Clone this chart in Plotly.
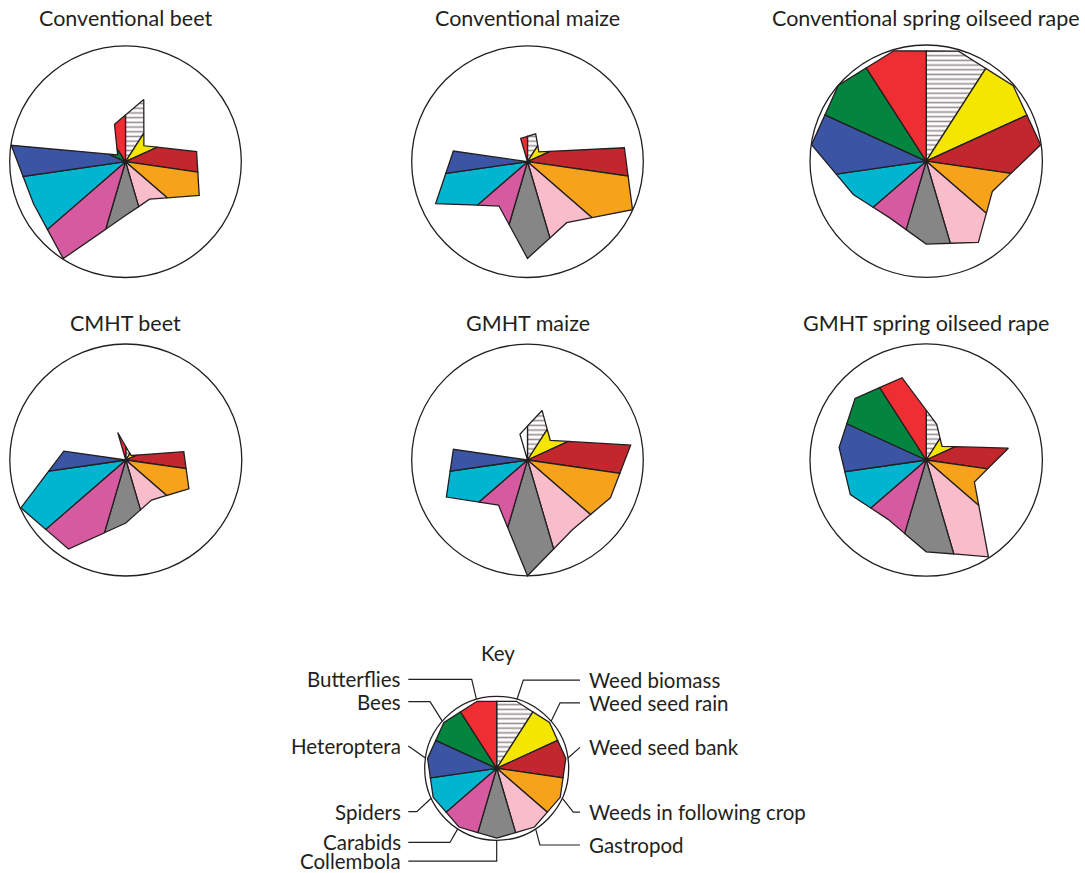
import numpy as np
import plotly.graph_objects as go

# ---- data -------------------------------------------------------------
CATEGORIES = ["Weed biomass", "Weed seed rain", "Weed seed bank",
              "Weeds in following crop", "Gastropod", "Collembola",
              "Carabids", "Spiders", "Heteroptera", "Bees", "Butterflies"]

# relative response of each indicator (outer circle = 1)
CONV_BEET = [0.56, 0.21, 0.62, 0.70, 0.385, 0.465, 0.995, 0.873, 0.997, 0.09, 0.337]
CONV_MAIZE = [0.25, 0.13, 0.845, 0.997, 0.626, 0.835, 0.455, 0.872, 0.647, 0.0, 0.21]
CONV_SOR = [0.987, 0.991, 0.995, 0.626, 0.83, 0.713, 0.58, 0.69, 0.997, 1.0, 0.99]
CMHT_BEET = [0.08, 0.06, 0.505, 0.598, 0.41, 0.543, 0.913, 0.994, 0.54, 0.0, 0.247]
GMHT_MAIZE = [0.446, 0.26, 0.90, 0.787, 0.716, 1.0, 0.463, 0.77, 0.647, 0.0, 0.232]
GMHT_SOR = [0.32, 0.18, 0.714, 0.456, 0.99, 0.79, 0.607, 0.718, 0.757, 0.81, 0.738]
KEY_VALUES = [0.97, 0.97, 0.97, 0.97, 0.97, 0.97, 0.97, 0.97, 0.97, 0.97, 0.97]

TITLES = ["Conventional beet", "Conventional maize", "Conventional spring oilseed rape",
          "CMHT beet", "GMHT maize", "GMHT spring oilseed rape"]
SERIES = [CONV_BEET, CONV_MAIZE, CONV_SOR, CMHT_BEET, GMHT_MAIZE, GMHT_SOR]

# ---- style ------------------------------------------------------------
COLORS = ["#ffffff", "#f5e600", "#c1272d", "#f7a21b", "#f8bccb", "#868686",
          "#d65a9f", "#00b5cf", "#3b54a4", "#03843f", "#ee2e33"]
UNFILLED = {"GMHT maize": ["Butterflies"]}
HATCHED = "Weed biomass"
INK = "#231f20"
FONT = "Lato"
TITLE_SIZE = 21.5
LABEL_SIZE = 20.5
W, H = 1085, 873

# panel centre (px), radius (px), title position (px)
PANELS = [
    (125.5, 161.7, 115.8, 18),
    (527.5, 161.7, 115.8, 18),
    (926.2, 161.2, 116.2, 18),
    (125.8, 460.0, 116.0, 323),
    (527.5, 460.0, 115.8, 323),
    (926.2, 460.0, 116.2, 323),
]
KEY_PANEL = (496.7, 768.3, 72.0)

N = len(CATEGORIES)
STEP = 360.0 / N


def boundary_radius(r1, r2):
    """Radius where the outline joining two neighbouring mid-sector points
    crosses the radial line between the two sectors."""
    if r1 + r2 == 0:
        return 0.0
    return 2 * r1 * r2 * np.cos(np.radians(STEP / 2)) / (r1 + r2)


def to_xy(r, ang):
    a = np.radians(ang)
    return r * np.sin(a), r * np.cos(a)


fig = go.Figure()
shapes = []
annotations = []


def add_star(values, k, title=None):
    xa, ya = f"x{k}", f"y{k}"
    skip = UNFILLED.get(title, [])
    for i, name in enumerate(CATEGORIES):
        v_prev, v, v_next = values[i - 1], values[i], values[(i + 1) % N]
        rs = boundary_radius(v_prev, v)
        re = boundary_radius(v, v_next)
        pts = [(0.0, 0.0), to_xy(rs, i * STEP), to_xy(v, (i + 0.5) * STEP),
               to_xy(re, (i + 1) * STEP), (0.0, 0.0)]
        xs = [p[0] for p in pts]
        ys = [p[1] for p in pts]
        kw = dict(x=xs, y=ys, xaxis=xa, yaxis=ya, mode="lines", fill="toself",
                  line=dict(color=INK, width=1.3), hoverinfo="skip",
                  showlegend=False, name=name)
        if name == HATCHED:
            kw["fillcolor"] = "white"
            kw["fillpattern"] = dict(shape="-", size=4.7, solidity=0.34,
                                     fgcolor="#2e1a1c", bgcolor="white")
        elif name in skip:
            kw["fillcolor"] = "white"
        else:
            kw["fillcolor"] = COLORS[i]
        fig.add_trace(go.Scatter(**kw))
    shapes.append(dict(type="circle", xref=xa, yref=ya, x0=-1, y0=-1, x1=1, y1=1,
                       line=dict(color=INK, width=1.3), layer="below"))


layout_axes = {}
for k, (title, values, (cx, cy, R, ty)) in enumerate(zip(TITLES, SERIES, PANELS), start=1):
    half = 1.05 * R
    ax = dict(visible=False, range=[-1.05, 1.05], fixedrange=True)
    layout_axes[f"xaxis{k}"] = dict(ax, domain=[(cx - half) / W, (cx + half) / W], anchor=f"y{k}")
    layout_axes[f"yaxis{k}"] = dict(ax, domain=[1 - (cy + half) / H, 1 - (cy - half) / H], anchor=f"x{k}")
    add_star(values, k, title)
    annotations.append(dict(text=title, x=cx / W, y=1 - ty / H, xref="paper", yref="paper",
                            showarrow=False, xanchor="center", yanchor="middle",
                            font=dict(family=FONT, size=TITLE_SIZE, color=INK)))

# ---- key --------------------------------------------------------------
kx, ky, kR = KEY_PANEL
k = 7
xr, yr = [-3.0, 5.0], [-1.45, 1.7]
layout_axes[f"xaxis{k}"] = dict(visible=False, range=xr, fixedrange=True, anchor=f"y{k}",
                                domain=[(kx + xr[0] * kR) / W, (kx + xr[1] * kR) / W])
layout_axes[f"yaxis{k}"] = dict(visible=False, range=yr, fixedrange=True, anchor=f"x{k}",
                                domain=[1 - (ky - yr[0] * kR) / H, 1 - (ky - yr[1] * kR) / H])
add_star(KEY_VALUES, k)

# label placement for the key: (side, label y, elbow x or None)
KEY_LABELS = {
    "Butterflies": ("left", 1.235, -0.347),
    "Bees": ("left", 0.925, -0.926),
    "Heteroptera": ("left", 0.31, None),
    "Spiders": ("left", -0.603, -1.11),
    "Carabids": ("left", -1.03, -0.65),
    "Collembola": ("left", -1.29, 0.0),
    "Weed biomass": ("right", 1.225, 0.37),
    "Weed seed rain": ("right", 0.91, 0.88),
    "Weed seed bank": ("right", 0.29, None),
    "Weeds in following crop": ("right", -0.61, 1.064),
    "Gastropod": ("right", -1.065, 0.6),
}
for i, name in enumerate(CATEGORIES):
    side, ly, ex = KEY_LABELS[name]
    end = to_xy(1.0, (i + 0.5) * STEP)
    start_x = -1.228 if side == "left" else 1.157
    xs = [start_x] + ([ex] if ex is not None else []) + [end[0]]
    ys = [ly] + ([ly] if ex is not None else []) + [end[1]]
    fig.add_trace(go.Scatter(x=xs, y=ys, xaxis="x7", yaxis="y7", mode="lines",
                             line=dict(color=INK, width=1.2), hoverinfo="skip",
                             showlegend=False))
    annotations.append(dict(text=name, x=-1.297 if side == "left" else 1.25, y=ly,
                            xref="x7", yref="y7", showarrow=False,
                            xanchor="right" if side == "left" else "left", yanchor="middle",
                            font=dict(family=FONT, size=LABEL_SIZE, color=INK)))
annotations.append(dict(text="Key", x=0.02, y=1.6, xref="x7", yref="y7", showarrow=False,
                        xanchor="center", yanchor="middle",
                        font=dict(family=FONT, size=LABEL_SIZE, color=INK)))

fig.update_layout(width=W, height=H, margin=dict(l=0, r=0, t=0, b=0),
                  paper_bgcolor="white", plot_bgcolor="white",
                  shapes=shapes, annotations=annotations, showlegend=False,
                  **layout_axes)

fig.write_html("out.html")
